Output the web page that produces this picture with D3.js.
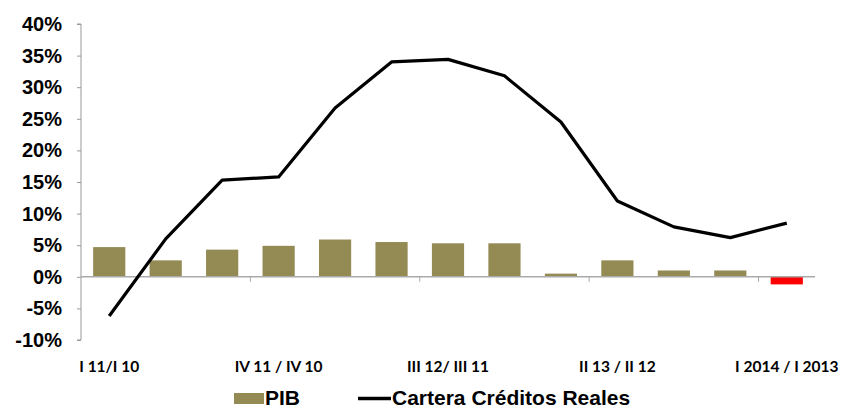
<html>
<head>
<script src="https://d3js.org/d3.v7.min.js"></script>
<style>
  body { margin: 0; background: #fff; }
</style>
</head>
<body>
<script>
var categories = ["I 11/I 10", "II 11/II 10", "III 11/III 10", "IV 11 / IV 10", "I 12/I 11", "II 12/II 11",
                  "III 12/ III 11", "IV 12/IV 11", "I 13/I 12", "II 13 / II 12", "III 13/III 12", "IV 13/IV 12",
                  "I 2014 / I 2013"];
var pib = [4.7, 2.6, 4.3, 4.9, 5.9, 5.5, 5.3, 5.3, 0.5, 2.6, 1.0, 1.0, -1.2];
var cartera = [-6.2, 6.0, 15.3, 15.8, 26.7, 34.0, 34.4, 31.8, 24.5, 12.0, 7.9, 6.2, 8.5];
var yTicks = [-10, -5, 0, 5, 10, 15, 20, 25, 30, 35, 40];
var xLabelIdx = [0, 3, 6, 9, 12];

var width = 843, height = 408;
var plotL = 81, plotR = 815, plotT = 24, plotB = 340;

var svg = d3.select("body").append("svg")
    .attr("width", width)
    .attr("height", height);

var x = d3.scaleBand()
    .domain(categories)
    .range([plotL, plotR])
    .paddingInner(0.43)
    .paddingOuter(0.215);

var y = d3.scaleLinear()
    .domain([-10, 40])
    .range([plotB, plotT]);

// y axis
var yAxis = svg.append("g")
    .attr("transform", "translate(" + plotL + ",0)")
    .call(d3.axisLeft(y).tickValues(yTicks).tickSize(4).tickPadding(15).tickFormat(d => d + "%"));
yAxis.select(".domain").attr("stroke", "#999").attr("d", "M-4," + plotT + "H0V" + plotB + "H-4");
yAxis.selectAll(".tick line").attr("stroke", "#999");
yAxis.selectAll(".tick text")
    .attr("font-family", "Liberation Sans, Arial, sans-serif")
    .attr("font-weight", "bold")
    .attr("font-size", "20px")
    .attr("fill", "#000");

// bars
svg.selectAll("rect.bar")
    .data(pib).enter()
    .append("rect")
    .attr("class", "bar")
    .attr("x", (d, i) => x(categories[i]))
    .attr("width", x.bandwidth())
    .attr("y", d => y(Math.max(0, d)))
    .attr("height", d => Math.abs(y(d) - y(0)))
    .attr("fill", d => d < 0 ? "#ff0000" : "#948a54");

// zero axis
var step = x.step();
svg.append("line")
    .attr("x1", plotL).attr("x2", plotR)
    .attr("y1", y(0)).attr("y2", y(0))
    .attr("stroke", "#aaa").attr("stroke-width", 1.5);
svg.selectAll("line.xt")
    .data([3, 6, 9, 12]).enter()
    .append("line")
    .attr("class", "xt")
    .attr("x1", d => plotL + d * step).attr("x2", d => plotL + d * step)
    .attr("y1", y(0)).attr("y2", y(0) + 5)
    .attr("stroke", "#aaa");

// x labels
svg.selectAll("text.xl")
    .data(xLabelIdx).enter()
    .append("text")
    .attr("class", "xl")
    .attr("x", d => x(categories[d]) + x.bandwidth() / 2)
    .attr("y", 372)
    .attr("text-anchor", "middle")
    .attr("font-family", "Lato, sans-serif")
    .attr("font-weight", "bold")
    .attr("font-size", "15.5px")
    .text(d => categories[d]);

// line
svg.append("path")
    .datum(cartera)
    .attr("fill", "none")
    .attr("stroke", "#000")
    .attr("stroke-width", 3.2)
    .attr("stroke-linejoin", "round")
    .attr("d", d3.line()
        .x((d, i) => x(categories[i]) + x.bandwidth() / 2)
        .y(d => y(d)));

// legend
var lg = svg.append("g").attr("font-family", "Liberation Sans, Arial, sans-serif")
    .attr("font-weight", "bold").attr("font-size", "21px");
lg.append("rect").attr("x", 234).attr("y", 393).attr("width", 30).attr("height", 11).attr("fill", "#948a54");
lg.append("text").attr("x", 265).attr("y", 405).text("PIB");
lg.append("line").attr("x1", 358).attr("x2", 391).attr("y1", 398.5).attr("y2", 398.5)
    .attr("stroke", "#000").attr("stroke-width", 3.5);
lg.append("text").attr("x", 392).attr("y", 405).text("Cartera Créditos Reales");
</script>
</body>
</html>
